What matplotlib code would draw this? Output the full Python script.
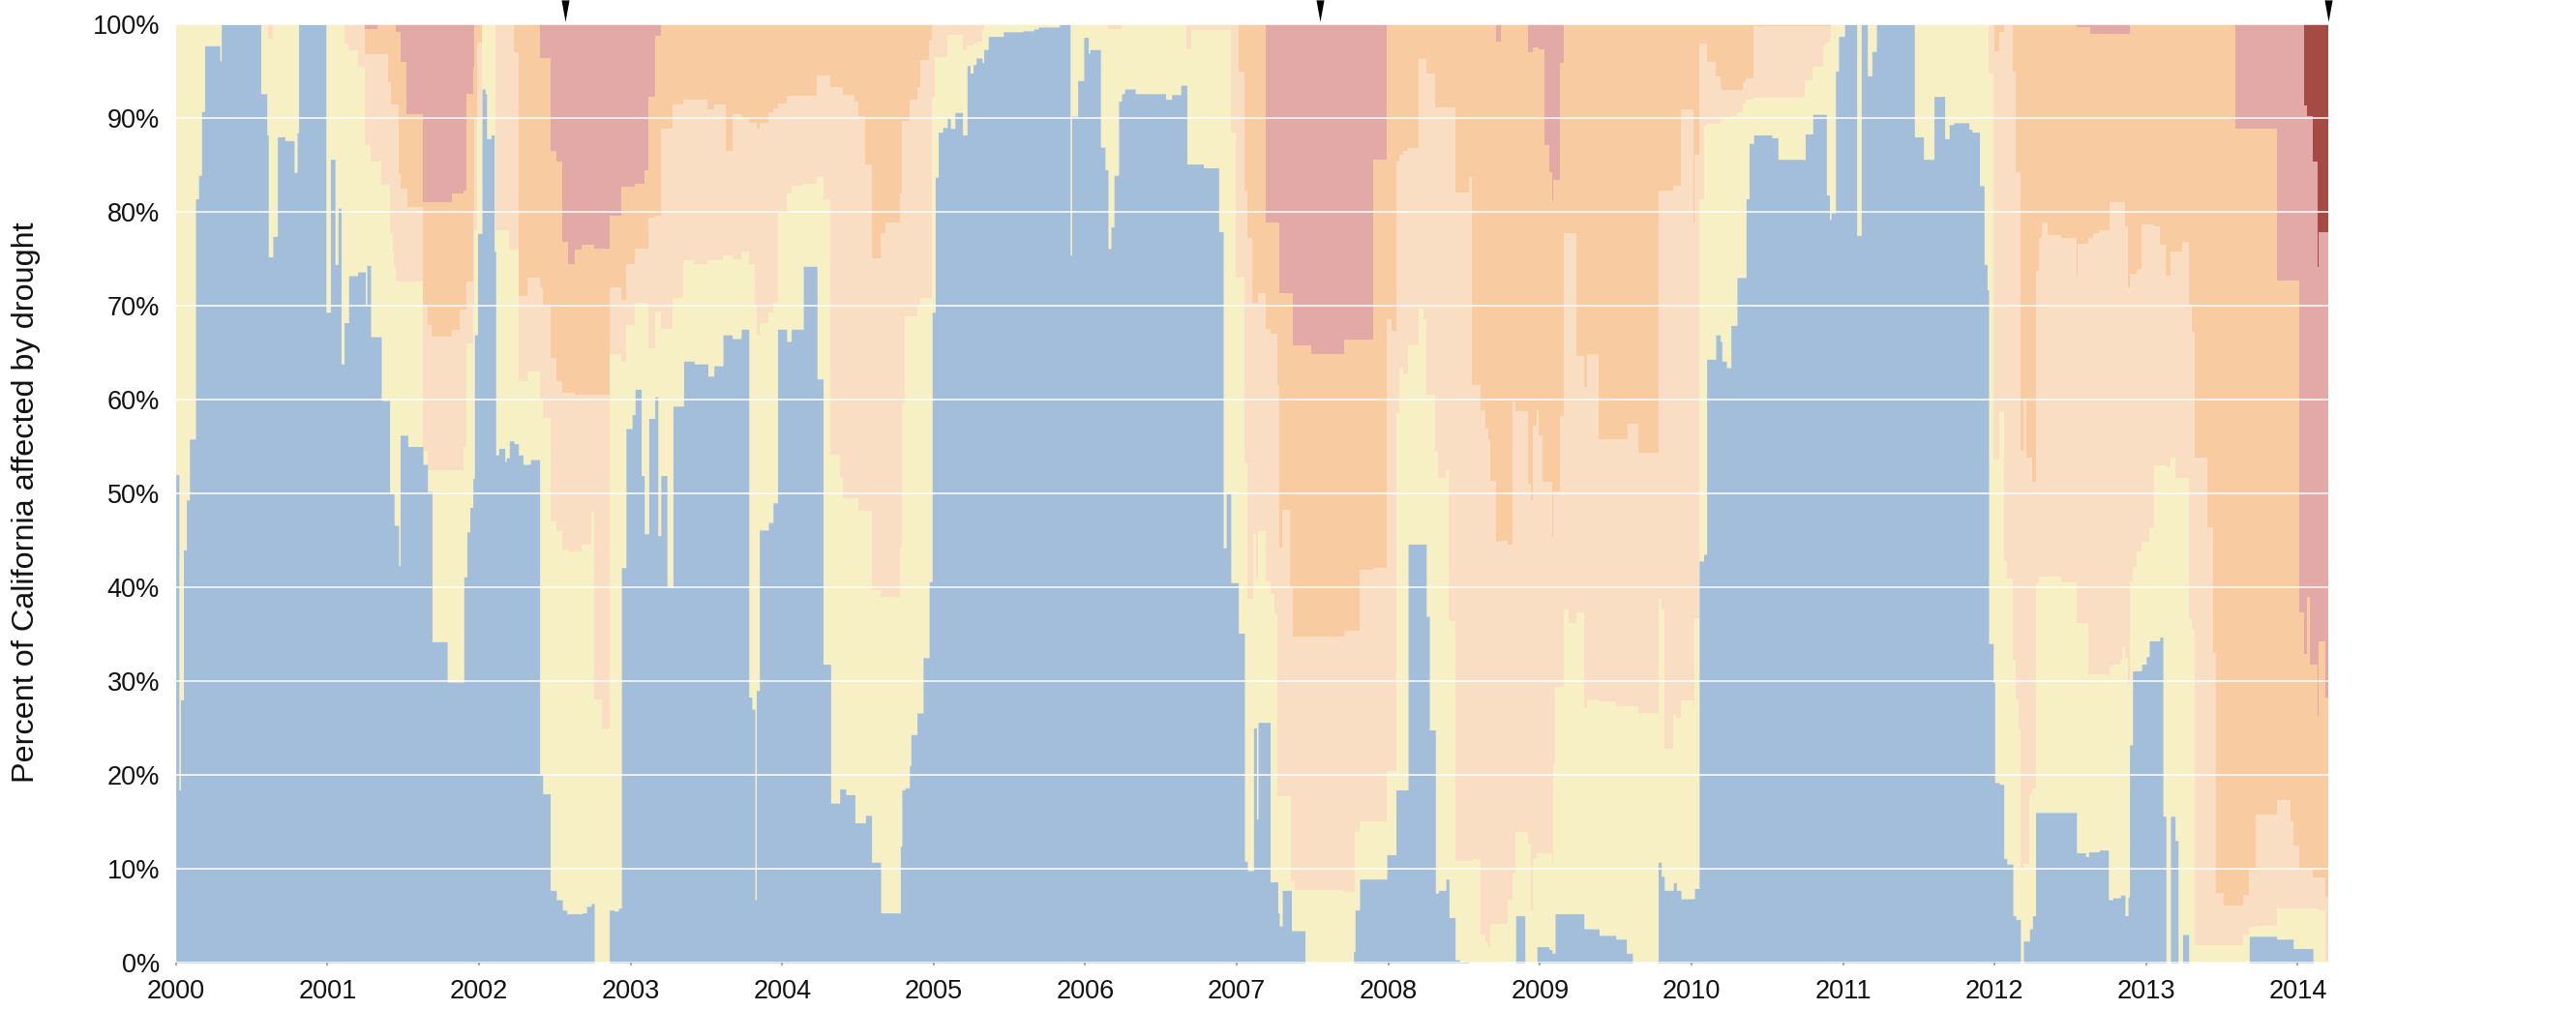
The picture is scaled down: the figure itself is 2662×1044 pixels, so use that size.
import matplotlib
matplotlib.use("Agg")
import matplotlib.pyplot as plt
import numpy as np

# ---------------- data (percent of California, weekly drought monitor) -------------
# Each series gives the upper edge of a category band (cumulative from the bottom)
# as a step function: value holds from the listed year until the next listed year.

none_years = [2000.00, 2000.02, 2000.03, 2000.05, 2000.07, 2000.09, 2000.13, 2000.15, 2000.17, 2000.19,
              2000.29, 2000.30, 2000.56, 2000.60, 2000.61, 2000.64, 2000.67, 2000.72, 2000.78, 2000.80,
              2000.81, 2000.99, 2001.02, 2001.05, 2001.07, 2001.09, 2001.11, 2001.14, 2001.20, 2001.25,
              2001.26, 2001.285, 2001.355, 2001.41, 2001.44, 2001.47, 2001.48, 2001.53, 2001.63, 2001.66,
              2001.69, 2001.79, 2001.90, 2001.92, 2001.94, 2001.96, 2001.97, 2001.99, 2002.02, 2002.04,
              2002.05, 2002.08, 2002.10, 2002.11, 2002.13, 2002.17, 2002.18, 2002.20, 2002.23, 2002.26,
              2002.29, 2002.34, 2002.40, 2002.42, 2002.47, 2002.51, 2002.55, 2002.58, 2002.68, 2002.71,
              2002.74, 2002.76, 2002.86, 2002.89, 2002.92, 2002.94, 2002.97, 2003.01, 2003.03, 2003.07,
              2003.09, 2003.12, 2003.16, 2003.18, 2003.20, 2003.24, 2003.28, 2003.35, 2003.42, 2003.51,
              2003.55, 2003.61, 2003.67, 2003.73, 2003.78, 2003.80, 2003.82, 2003.83, 2003.85, 2003.91,
              2003.94, 2003.97, 2004.03, 2004.06, 2004.14, 2004.23, 2004.27, 2004.32, 2004.38, 2004.42,
              2004.48, 2004.55, 2004.59, 2004.65, 2004.78, 2004.79, 2004.81, 2004.84, 2004.85, 2004.89,
              2004.93, 2004.97, 2004.99, 2005.01, 2005.03, 2005.06, 2005.09, 2005.11, 2005.14, 2005.19,
              2005.22, 2005.24, 2005.26, 2005.28, 2005.32, 2005.33, 2005.36, 2005.46, 2005.59, 2005.66,
              2005.69, 2005.83, 2005.90, 2005.91, 2005.95, 2005.99, 2006.02, 2006.03, 2006.10, 2006.13,
              2006.15, 2006.17, 2006.19, 2006.22, 2006.24, 2006.26, 2006.33, 2006.53, 2006.57, 2006.63,
              2006.67, 2006.78, 2006.88, 2006.91, 2006.93, 2006.96, 2007.01, 2007.05, 2007.07, 2007.11,
              2007.13, 2007.14, 2007.22, 2007.27, 2007.28, 2007.30, 2007.36, 2007.45, 2007.77, 2007.78,
              2007.81, 2007.99, 2008.05, 2008.13, 2008.25, 2008.27, 2008.31, 2008.33, 2008.38, 2008.40,
              2008.44, 2008.47, 2008.53, 2008.84, 2008.90, 2008.98, 2009.06, 2009.08, 2009.10, 2009.29,
              2009.39, 2009.50, 2009.57, 2009.61, 2009.78, 2009.80, 2009.82, 2009.88, 2009.90, 2009.93,
              2010.02, 2010.05, 2010.08, 2010.10, 2010.16, 2010.19, 2010.20, 2010.23, 2010.26, 2010.30,
              2010.36, 2010.38, 2010.41, 2010.53, 2010.57, 2010.75, 2010.80, 2010.89, 2010.91, 2010.92,
              2010.95, 2010.97, 2011.01, 2011.09, 2011.12, 2011.16, 2011.19, 2011.22, 2011.47, 2011.53,
              2011.60, 2011.67, 2011.70, 2011.73, 2011.83, 2011.85, 2011.90, 2011.93, 2011.95, 2011.96,
              2011.99, 2012.00, 2012.03, 2012.06, 2012.08, 2012.12, 2012.14, 2012.17, 2012.19, 2012.23,
              2012.25, 2012.27, 2012.54, 2012.60, 2012.62, 2012.69, 2012.75, 2012.78, 2012.83, 2012.86,
              2012.88, 2012.89, 2012.91, 2012.97, 2013.00, 2013.02, 2013.09, 2013.11, 2013.13, 2013.16,
              2013.19, 2013.21, 2013.24, 2013.28, 2013.68, 2013.86, 2013.97, 2014.10]
none_top = [52, 18.4, 28, 44, 49.3, 55.8, 81.4, 83.9, 90.7, 97.7,
            96.1, 100, 92.6, 88.2, 75.2, 77.4, 88, 87.6, 84.2, 88.4,
            100, 69.3, 85.6, 74.4, 80.4, 63.8, 68.2, 73.2, 73.6, 70.1,
            74.3, 66.7, 59.9, 50, 46.6, 42.3, 56.2, 55, 53.1, 50.2,
            34.2, 29.9, 41.1, 45.9, 48.5, 51.6, 66.9, 77.7, 93.1, 92.6,
            87.8, 88.2, 75.8, 54.1, 54.8, 53.4, 53.8, 55.6, 55.3, 54.1,
            53.1, 53.6, 20.1, 18, 7.7, 6.7, 5.6, 5.2, 5.3, 6.0,
            6.3, 0, 5.6, 5.5, 5.8, 42.1, 56.9, 58.4, 61.1, 51.9,
            45.7, 58, 60.3, 45.5, 51.9, 40, 59.3, 64.1, 63.8, 62.5,
            63.6, 66.9, 66.5, 67.5, 28.3, 27, 6.7, 29, 46.1, 46.9,
            49, 67.5, 66.2, 67.5, 74.2, 62.2, 31.8, 17, 18.5, 17.9,
            14.9, 15.7, 10.7, 5.3, 12.4, 18.4, 18.6, 21, 24.3, 26.6,
            32.5, 40.6, 69.3, 83.7, 88.5, 89, 90, 88.9, 90.6, 88.2,
            95.6, 94.8, 95.7, 96.4, 95.9, 97.3, 98.7, 99.2, 99.3, 99.5,
            99.7, 100, 75.4, 90.2, 94, 98.6, 96.9, 97.3, 86.9, 84.5,
            76.1, 78.4, 83.9, 91.8, 92.6, 93.1, 92.6, 92, 92.5, 93.5,
            85.1, 84.7, 77.9, 44.2, 50, 40.5, 35.1, 10.8, 9.8, 25,
            15.3, 25.6, 8.6, 5.3, 3.9, 7.7, 3.4, 0, 1.2, 5.6,
            8.9, 11.5, 18.4, 44.6, 36.9, 24.8, 7.4, 7.7, 8.9, 4.8,
            0.3, 0.1, 0, 5, 0, 1.7, 1.4, 1.0, 5.2, 3.6,
            2.9, 2.5, 1, 0, 10.7, 9.2, 7.7, 8.5, 7.7, 6.8,
            7.9, 42.8, 43.5, 64.3, 66.9, 66.2, 64.1, 63.4, 67.9, 73,
            81.4, 87.3, 88.2, 87.9, 85.6, 88.3, 90.4, 81.8, 79.2, 79.9,
            95, 98.7, 100, 77.5, 100, 94.5, 97.1, 100, 88, 85.6,
            92.3, 87.8, 89.3, 89.5, 88.8, 88.5, 82.8, 74.4, 71.7, 34,
            29.9, 19.2, 19, 11.1, 10.5, 5, 4.6, 0, 2.3, 3.6,
            5, 16, 11.7, 11.3, 11.8, 12, 6.7, 6.9, 7.2, 5,
            7, 23.2, 31.1, 31.8, 32.6, 34.3, 34.7, 15.6, 0, 15.6,
            13, 0, 3, 0, 2.8, 2.5, 1.5, 0]

d0_years = [2000.00, 2000.61, 2000.64, 2001.11, 2001.14, 2001.20, 2001.25, 2001.285, 2001.355, 2001.41,
            2001.43, 2001.44, 2001.45, 2001.63, 2001.66, 2001.90, 2001.92, 2001.96, 2001.97, 2001.99,
            2002.02, 2002.11, 2002.20, 2002.26, 2002.32, 2002.40, 2002.42, 2002.47, 2002.51, 2002.55,
            2002.59, 2002.68, 2002.74, 2002.76, 2002.81, 2002.86, 2002.94, 2002.97, 2003.03, 2003.12,
            2003.16, 2003.20, 2003.28, 2003.35, 2003.42, 2003.51, 2003.61, 2003.67, 2003.73, 2003.78,
            2003.82, 2003.83, 2003.85, 2003.91, 2003.94, 2003.97, 2004.03, 2004.06, 2004.14, 2004.23,
            2004.27, 2004.32, 2004.38, 2004.40, 2004.50, 2004.59, 2004.65, 2004.78, 2004.79, 2004.81,
            2004.89, 2004.91, 2004.99, 2005.01, 2005.09, 2005.19, 2005.22, 2005.26, 2005.28, 2005.32,
            2005.33, 2006.15, 2006.24, 2006.67, 2006.70, 2006.96, 2006.99, 2007.05, 2007.07, 2007.11,
            2007.13, 2007.14, 2007.19, 2007.22, 2007.25, 2007.27, 2007.36, 2007.38, 2007.71, 2007.78,
            2007.81, 2007.99, 2008.05, 2008.07, 2008.10, 2008.13, 2008.20, 2008.23, 2008.25, 2008.31,
            2008.33, 2008.38, 2008.40, 2008.44, 2008.55, 2008.61, 2008.64, 2008.66, 2008.67, 2008.79,
            2008.82, 2008.84, 2008.92, 2008.94, 2008.95, 2008.98, 2009.08, 2009.09, 2009.10, 2009.16,
            2009.19, 2009.24, 2009.29, 2009.31, 2009.39, 2009.50, 2009.65, 2009.78, 2009.80, 2009.82,
            2009.88, 2009.90, 2009.93, 2010.01, 2010.02, 2010.05, 2010.08, 2010.10, 2010.19, 2010.20,
            2010.26, 2010.30, 2010.34, 2010.36, 2010.41, 2010.75, 2010.80, 2010.87, 2010.89, 2010.91,
            2010.92, 2010.95, 2011.96, 2011.99, 2012.03, 2012.06, 2012.08, 2012.12, 2012.14, 2012.16,
            2012.17, 2012.19, 2012.23, 2012.25, 2012.27, 2012.29, 2012.44, 2012.54, 2012.62, 2012.75,
            2012.76, 2012.78, 2012.83, 2012.84, 2012.86, 2012.88, 2012.89, 2012.91, 2012.94, 2012.97,
            2013.02, 2013.05, 2013.13, 2013.16, 2013.19, 2013.28, 2013.30, 2013.32, 2013.64, 2013.68,
            2013.72, 2013.86, 2013.87, 2014.13, 2014.18]
d0_top = [100, 98.5, 100, 97.9, 97.2, 95.5, 87.1, 85.4, 82.9, 77.7,
          75.8, 74.1, 72.6, 54.5, 52.5, 55, 66, 70, 78, 90,
          100, 78, 76, 62, 63, 60, 58, 47, 46, 44,
          43.8, 44.5, 48, 28, 25, 64.8, 64, 67.9, 70.3, 65.5,
          69.4, 67.5, 70.8, 74.8, 74.4, 74.8, 75.4, 75, 75.8, 74.4,
          70, 66.9, 68.2, 69.3, 70.3, 79.9, 82, 82.8, 83, 83.7,
          81.3, 54.1, 51.7, 49.5, 48.1, 39.7, 39, 44.2, 59.6, 68.9,
          70, 70.8, 92.3, 96.5, 98.9, 97.2, 97.7, 97.9, 98.1, 99.4,
          100, 99.5, 100, 97.3, 99.4, 88.5, 73, 53.2, 38.8, 45.7,
          40.9, 46, 40.6, 39.3, 37.1, 17.7, 8.7, 7.7, 7.5, 13.9,
          15.1, 20.4, 58.6, 63.4, 62.7, 65.8, 69.7, 68.6, 60.5, 54.5,
          51.7, 52.5, 36.4, 10.8, 11, 3, 2.2, 1.7, 4.1, 6.7,
          9.6, 13.9, 12.7, 5.6, 11.1, 11.7, 10.5, 21.1, 29.4, 37.6,
          36.2, 37.3, 27.1, 28, 27.8, 27.3, 26.6, 38.8, 37.6, 22.8,
          26.4, 26.1, 27.9, 27.3, 36.7, 81.3, 89.2, 89.4, 89.7, 90.1,
          90.2, 90.6, 91.6, 92, 92.2, 94, 95.5, 97.7, 98, 98.6,
          99.9, 100, 94.7, 53.6, 58.8, 42.8, 40.9, 32.3, 28, 24.8,
          10.1, 10.5, 17.9, 18.6, 40.4, 41.1, 40.5, 36.2, 30.7, 30.5,
          31.6, 31.8, 32.3, 33.6, 32.5, 29.7, 40.6, 42.2, 43.8, 44.8,
          46.4, 53, 52.8, 53.8, 51.7, 36.6, 35.6, 1.9, 3, 3.8,
          3.9, 6, 5.8, 5.6, 0]

d1_years = [2000.00, 2001.25, 2001.40, 2001.42, 2001.43, 2001.47, 2001.48, 2001.53, 2001.63, 2001.66,
            2001.69, 2001.82, 2001.87, 2001.92, 2001.96, 2001.97, 2001.99, 2002.02, 2002.23, 2002.26,
            2002.32, 2002.40, 2002.42, 2002.47, 2002.51, 2002.55, 2002.63, 2002.86, 2002.94, 2002.97,
            2003.03, 2003.12, 2003.16, 2003.20, 2003.28, 2003.35, 2003.51, 2003.55, 2003.63, 2003.67,
            2003.73, 2003.78, 2003.83, 2003.85, 2003.91, 2003.94, 2003.97, 2004.03, 2004.23, 2004.32,
            2004.40, 2004.48, 2004.50, 2004.55, 2004.59, 2004.65, 2004.68, 2004.78, 2004.79, 2004.84,
            2004.89, 2004.91, 2004.97, 2004.99, 2005.01, 2007.01, 2007.05, 2007.07, 2007.10, 2007.14,
            2007.19, 2007.22, 2007.27, 2007.28, 2007.30, 2007.35, 2007.37, 2007.71, 2007.81, 2007.90,
            2007.99, 2008.02, 2008.05, 2008.07, 2008.10, 2008.13, 2008.20, 2008.25, 2008.31, 2008.44,
            2008.53, 2008.55, 2008.61, 2008.64, 2008.66, 2008.67, 2008.71, 2008.74, 2008.79, 2008.82,
            2008.84, 2008.92, 2008.94, 2008.95, 2008.98, 2008.99, 2009.02, 2009.08, 2009.09, 2009.13,
            2009.16, 2009.24, 2009.29, 2009.31, 2009.39, 2009.58, 2009.65, 2009.78, 2009.88, 2009.93,
            2010.01, 2010.02, 2010.05, 2010.10, 2010.16, 2010.19, 2010.20, 2010.34, 2010.36, 2010.41,
            2010.91, 2012.00, 2012.03, 2012.06, 2012.12, 2012.14, 2012.17, 2012.19, 2012.21, 2012.25,
            2012.27, 2012.29, 2012.31, 2012.35, 2012.44, 2012.54, 2012.55, 2012.62, 2012.65, 2012.69,
            2012.76, 2012.86, 2012.88, 2012.89, 2012.94, 2012.97, 2013.05, 2013.09, 2013.13, 2013.16,
            2013.24, 2013.28, 2013.30, 2013.32, 2013.40, 2013.44, 2013.46, 2013.51, 2013.64, 2013.68,
            2013.72, 2013.86, 2013.95, 2013.97, 2014.01, 2014.10, 2014.18]
d1_top = [100, 96.8, 93.8, 91.5, 91.4, 84, 82.5, 80.5, 70, 67.9,
          66.7, 67.4, 69.6, 72.6, 80, 90, 98, 100, 97, 71,
          73, 72, 70, 64.4, 62, 60.7, 60.5, 72, 70.6, 74.4,
          76.1, 79.4, 79.6, 88.9, 91.5, 92, 90.9, 91.5, 86.5, 90.4,
          90.1, 89.5, 88.9, 89.5, 90.6, 91, 91.6, 92.4, 94.5, 93.3,
          92.5, 91.8, 90.2, 85.1, 75.1, 77.7, 78.9, 82, 89.7, 92,
          93.3, 96.2, 98.3, 99.9, 100, 95, 82.3, 77.2, 70.3, 71.3,
          67.5, 67, 61.5, 44.2, 48.3, 39.9, 34.7, 35.4, 41.9, 42.1,
          68.6, 67.3, 85.4, 86.1, 86.5, 86.8, 96.3, 94.7, 91.1, 82.1,
          83.7, 61.5, 58.9, 56.9, 55.7, 51.3, 44.8, 45, 44.5, 59.8,
          58.8, 51, 49.3, 57.2, 58.9, 56.2, 51.2, 45.4, 50.2, 58.3,
          77.7, 64.6, 61.3, 64.8, 55.8, 57.4, 54.3, 82.3, 82.8, 90.9,
          78.9, 86.1, 97.9, 96, 94.4, 93.3, 93, 93.8, 94.2, 99.8,
          100, 97.1, 99.2, 99.9, 95, 84.2, 54.5, 60, 53.8, 51.2,
          73.7, 77.2, 78.9, 77.5, 77.2, 73.2, 76.6, 77.2, 77.7, 78,
          81, 78.5, 72, 73.4, 73.9, 78.7, 78.5, 76.5, 73.2, 75.8,
          76.8, 70.1, 67.2, 53.8, 46.4, 33, 7.4, 6.1, 7.2, 10.1,
          15.8, 17.3, 15.1, 12.5, 10.1, 9.1, 7]

d2_years = [2000.00, 2001.25, 2001.33, 2001.45, 2001.48, 2001.52, 2001.63, 2001.82, 2001.90, 2001.92,
            2001.96, 2001.97, 2002.40, 2002.47, 2002.51, 2002.55, 2002.59, 2002.63, 2002.68, 2002.76,
            2002.86, 2002.94, 2003.03, 2003.09, 2003.12, 2003.16, 2003.20, 2007.19, 2007.28, 2007.37,
            2007.49, 2007.71, 2007.90, 2007.99, 2008.71, 2008.74, 2008.92, 2008.95, 2008.99, 2009.03,
            2009.06, 2009.08, 2009.09, 2009.13, 2009.16, 2012.54, 2012.63, 2012.89, 2013.59, 2013.86,
            2014.01, 2014.04, 2014.06, 2014.08, 2014.13, 2014.14, 2014.18]
d2_top = [100, 99.5, 100, 99.2, 96, 90.4, 81, 82, 82.3, 92.6,
          95.4, 100, 96.4, 86.5, 85.4, 76.8, 74.4, 76, 76.5, 76.1,
          79.6, 82.7, 83, 84.4, 92.3, 98.8, 100, 78.9, 71.3, 65.8,
          64.9, 66.4, 85.6, 100, 98.1, 100, 97, 97.5, 97.3, 87.1,
          84.2, 81.2, 83.4, 95.9, 100, 99.7, 99, 100, 88.9, 72.7,
          37.3, 32.9, 39, 31.8, 26.3, 34.2, 28.3]

d3_years = [2000.00, 2014.04, 2014.06, 2014.10, 2014.13, 2014.14]
d3_top = [100, 91.3, 90.2, 85.4, 74.1, 77.8]

END_YEAR = 2014.20
year_ticks = list(range(2000, 2015))
pct_ticks = list(range(0, 101, 10))
marker_years = [2002.57, 2007.55, 2014.20]

band_colors = {
    "None": "#A2BEDB",
    "D0": "#F7F0C5",
    "D1": "#FADEC4",
    "D2": "#F9CBA1",
    "D3": "#E2A9A6",
    "D4": "#A64B44",
}

# ---------------- figure -------------
plt.rcParams["font.family"] = ["Liberation Sans", "DejaVu Sans"]
fig = plt.figure(figsize=(26.62, 10.44), dpi=100)
ax = fig.add_axes([0.06826, 0.0469, 0.8355, 0.9291])


def step_fill(xs, ys, color):
    x = np.append(np.asarray(xs, float), END_YEAR)
    y = np.append(np.asarray(ys, float), ys[-1])
    ax.fill_between(x, 0, y, step="post", color=color, linewidth=0, zorder=1)


# draw from the most severe (full height) down so each band shows between edges
step_fill([2000.0], [100], band_colors["D4"])
step_fill(d3_years, d3_top, band_colors["D3"])
step_fill(d2_years, d2_top, band_colors["D2"])
step_fill(d1_years, d1_top, band_colors["D1"])
step_fill(d0_years, d0_top, band_colors["D0"])
step_fill(none_years, none_top, band_colors["None"])

ax.set_xlim(2000.0, END_YEAR)
ax.set_ylim(0, 100)

ax.set_yticks(pct_ticks)
ax.set_yticklabels([f"{p}%" for p in pct_ticks])
ax.set_xticks(year_ticks)
ax.set_xticklabels([str(y) for y in year_ticks])

ax.yaxis.grid(True, color="white", linewidth=1.1)
ax.xaxis.grid(False)
ax.set_axisbelow(False)

for s in ax.spines.values():
    s.set_visible(False)

ax.tick_params(axis="y", length=0, pad=12, labelsize=19.5, labelcolor="#111111")
ax.tick_params(axis="x", length=2.5, width=1.5, color="#aaaaaa", pad=10,
               labelsize=19.5, labelcolor="#111111")

fig.text(27.0 / 2662, 0.5024, "Percent of California affected by drought",
         rotation=90, ha="center", va="center", fontsize=23.3, color="#111111")

# event markers above the plot
tri = [(-4, 11), (4, 11), (0, -11)]
ax.plot(marker_years, [1.0144] * len(marker_years), linestyle="none",
        marker=tri, markersize=16, color="black", markeredgewidth=0,
        transform=ax.get_xaxis_transform(), clip_on=False, zorder=5)

fig.savefig("out.png", dpi=100, facecolor="white")
